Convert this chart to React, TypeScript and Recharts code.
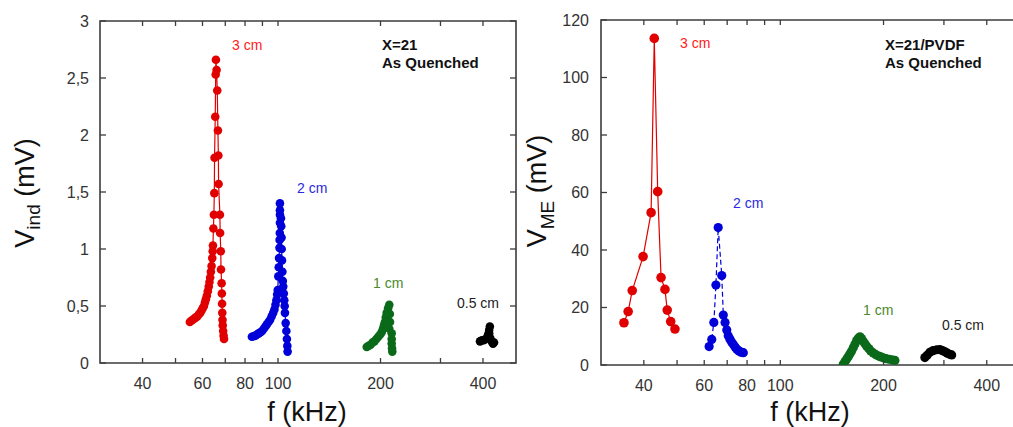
import React from 'react';
import { ComposedChart, Line, XAxis, YAxis, ReferenceArea } from 'recharts';

// ---------- data ----------
const X_TICKS = [40, 50, 60, 70, 80, 90, 100, 200, 300, 400];
const X_LABELED = [40, 60, 80, 100, 200, 400];
const IND_Y_TICKS = [0, 0.5, 1, 1.5, 2, 2.5, 3];
const ME_Y_TICKS = [0, 20, 40, 60, 80, 100, 120];

// Left panel: V_ind (mV) vs f (kHz), X=21 As Quenched
const ind3cm = [
  { f: 55.1, v: 0.36 }, { f: 55.6, v: 0.37 }, { f: 56.2, v: 0.38 }, { f: 56.8, v: 0.39 },
  { f: 57.4, v: 0.4 }, { f: 58.0, v: 0.41 }, { f: 58.6, v: 0.43 }, { f: 59.1, v: 0.44 },
  { f: 59.6, v: 0.46 }, { f: 60.1, v: 0.48 }, { f: 60.6, v: 0.5 }, { f: 61.0, v: 0.53 },
  { f: 61.4, v: 0.56 }, { f: 61.8, v: 0.59 }, { f: 62.2, v: 0.63 }, { f: 62.6, v: 0.67 },
  { f: 62.9, v: 0.71 }, { f: 63.2, v: 0.75 }, { f: 63.5, v: 0.8 }, { f: 63.8, v: 0.85 },
  { f: 64.1, v: 0.92 }, { f: 64.3, v: 0.98 }, { f: 64.4, v: 1.03 }, { f: 64.6, v: 1.18 },
  { f: 64.8, v: 1.3 }, { f: 65.0, v: 1.49 }, { f: 65.1, v: 1.8 }, { f: 65.4, v: 2.16 },
  { f: 65.6, v: 2.53 }, { f: 65.7, v: 2.66 }, { f: 66.0, v: 2.57 }, { f: 66.3, v: 2.39 },
  { f: 66.6, v: 2.04 }, { f: 66.8, v: 1.82 }, { f: 66.9, v: 1.57 }, { f: 67.5, v: 1.3 },
  { f: 67.6, v: 1.14 }, { f: 67.9, v: 0.98 }, { f: 68.0, v: 0.82 }, { f: 68.3, v: 0.7 },
  { f: 68.4, v: 0.61 }, { f: 68.5, v: 0.52 }, { f: 68.6, v: 0.44 }, { f: 68.7, v: 0.38 },
  { f: 68.8, v: 0.33 }, { f: 69.0, v: 0.28 }, { f: 69.2, v: 0.24 }, { f: 69.4, v: 0.21 },
];
const ind2cm = [
  { f: 83.8, v: 0.23 }, { f: 84.8, v: 0.235 }, { f: 85.8, v: 0.24 }, { f: 86.8, v: 0.25 },
  { f: 87.8, v: 0.26 }, { f: 88.8, v: 0.27 }, { f: 89.8, v: 0.28 }, { f: 90.8, v: 0.3 },
  { f: 91.8, v: 0.32 }, { f: 92.8, v: 0.34 }, { f: 93.8, v: 0.36 }, { f: 94.8, v: 0.38 },
  { f: 95.8, v: 0.41 }, { f: 96.8, v: 0.44 }, { f: 97.6, v: 0.47 }, { f: 98.3, v: 0.51 },
  { f: 98.9, v: 0.55 }, { f: 99.4, v: 0.6 }, { f: 99.8, v: 0.64 }, { f: 100.2, v: 0.76 },
  { f: 100.5, v: 0.84 }, { f: 100.7, v: 0.92 }, { f: 101.0, v: 1.01 }, { f: 101.1, v: 1.08 },
  { f: 101.2, v: 1.14 }, { f: 101.3, v: 1.23 }, { f: 101.3, v: 1.3 }, { f: 101.3, v: 1.34 },
  { f: 101.3, v: 1.4 }, { f: 102.0, v: 1.27 }, { f: 102.2, v: 1.2 }, { f: 102.4, v: 1.1 },
  { f: 102.5, v: 1.0 }, { f: 102.7, v: 0.9 }, { f: 103.0, v: 0.8 }, { f: 103.3, v: 0.72 },
  { f: 103.6, v: 0.67 }, { f: 104.0, v: 0.61 }, { f: 104.3, v: 0.55 }, { f: 104.6, v: 0.5 },
  { f: 104.8, v: 0.44 }, { f: 105.3, v: 0.35 }, { f: 105.8, v: 0.28 }, { f: 106.2, v: 0.21 },
  { f: 106.5, v: 0.15 }, { f: 106.7, v: 0.1 },
];
const ind1cm = [
  { f: 182.2, v: 0.14 }, { f: 184.5, v: 0.15 }, { f: 187.0, v: 0.16 }, { f: 189.5, v: 0.18 },
  { f: 192.0, v: 0.19 }, { f: 194.5, v: 0.21 }, { f: 197.0, v: 0.23 }, { f: 199.5, v: 0.25 },
  { f: 201.6, v: 0.27 }, { f: 203.3, v: 0.3 }, { f: 204.7, v: 0.33 }, { f: 206.1, v: 0.36 },
  { f: 207.3, v: 0.4 }, { f: 208.5, v: 0.44 }, { f: 210.5, v: 0.48 }, { f: 212.2, v: 0.51 },
  { f: 213.0, v: 0.43 }, { f: 213.3, v: 0.36 }, { f: 212.2, v: 0.3 }, { f: 215.7, v: 0.26 },
  { f: 215.7, v: 0.21 }, { f: 215.7, v: 0.17 }, { f: 216.2, v: 0.13 }, { f: 216.6, v: 0.1 },
];
const ind05cm = [
  { f: 392, v: 0.19 }, { f: 397, v: 0.2 }, { f: 402, v: 0.2 }, { f: 407, v: 0.21 },
  { f: 411, v: 0.22 }, { f: 414, v: 0.25 }, { f: 417, v: 0.29 }, { f: 419, v: 0.32 },
  { f: 417, v: 0.26 }, { f: 420, v: 0.22 }, { f: 424, v: 0.19 }, { f: 428, v: 0.17 },
  { f: 431, v: 0.18 },
];

// Right panel: V_ME (mV) vs f (kHz), X=21/PVDF As Quenched
const me3cm = [
  { f: 35.0, v: 14.7 }, { f: 36.0, v: 18.6 }, { f: 37.0, v: 25.9 }, { f: 39.8, v: 37.7 },
  { f: 42.0, v: 53.0 }, { f: 42.9, v: 113.6 }, { f: 43.9, v: 60.3 }, { f: 44.9, v: 30.4 },
  { f: 46.1, v: 26.3 }, { f: 46.8, v: 19.1 }, { f: 47.9, v: 15.1 }, { f: 49.3, v: 12.5 },
];
const me2cm = [
  { f: 62.0, v: 6.4 }, { f: 63.1, v: 8.9 }, { f: 64.0, v: 14.8 }, { f: 64.9, v: 27.8 },
  { f: 65.9, v: 47.8 }, { f: 67.5, v: 31.1 }, { f: 68.2, v: 17.4 }, { f: 69.0, v: 14.8 },
  { f: 69.8, v: 12.2 }, { f: 70.5, v: 10.2 }, { f: 71.3, v: 9.0 }, { f: 72.1, v: 8.0 },
  { f: 72.9, v: 7.2 }, { f: 73.8, v: 6.3 }, { f: 74.6, v: 5.6 }, { f: 75.5, v: 5.0 },
  { f: 76.3, v: 4.6 }, { f: 77.1, v: 4.4 }, { f: 78.0, v: 4.3 },
];
const me1cm = [
  { f: 152.6, v: 0.3 }, { f: 154.5, v: 1.2 }, { f: 156.2, v: 2.1 }, { f: 157.8, v: 2.9 },
  { f: 159.5, v: 3.8 }, { f: 161.3, v: 4.8 }, { f: 163.2, v: 6.0 }, { f: 165.0, v: 7.2 },
  { f: 167.0, v: 8.5 }, { f: 168.8, v: 9.3 }, { f: 170.7, v: 9.8 }, { f: 172.5, v: 9.2 },
  { f: 174.5, v: 8.3 }, { f: 176.5, v: 7.4 }, { f: 178.6, v: 6.5 }, { f: 181.0, v: 5.7 },
  { f: 183.5, v: 4.9 }, { f: 186.7, v: 4.2 }, { f: 190.0, v: 3.6 }, { f: 193.5, v: 3.1 },
  { f: 196.5, v: 2.8 }, { f: 199.6, v: 2.5 }, { f: 203.5, v: 2.2 }, { f: 207.5, v: 2.0 },
  { f: 211.5, v: 1.8 }, { f: 215.9, v: 1.6 },
];
const me05cm = [
  { f: 264, v: 2.6 }, { f: 268, v: 3.4 }, { f: 273, v: 4.4 }, { f: 279, v: 5.0 },
  { f: 286, v: 5.3 }, { f: 292, v: 5.4 }, { f: 297, v: 5.0 }, { f: 302, v: 4.6 },
  { f: 307, v: 4.1 }, { f: 312, v: 3.7 }, { f: 316, v: 3.5 },
];

// ---------- styles ----------
const FONT = '"Liberation Sans", Arial, sans-serif';
const AXIS = '#3c3c3c';
const RED = '#e00000';
const BLUE = '#0000d8';
const GREEN = '#0a6a1a';
const BLACK = '#000000';

const X_DOMAIN: [number, number] = [30, 500];

const makeXTick = (plotH: number) => (props: any) => {
  const { x, y, payload } = props;
  const val = payload.value;
  return (
    <g>
      <line x1={x} y1={y} x2={x} y2={y - 5} stroke={AXIS} strokeWidth={1.3} />
      <line x1={x} y1={y - plotH} x2={x} y2={y - plotH + 5} stroke={AXIS} strokeWidth={1.3} />
      {X_LABELED.includes(val) && (
        <text x={x} y={y + 26} textAnchor="middle" fontSize={16} fontFamily={FONT} fill="#333">
          {val}
        </text>
      )}
    </g>
  );
};

const makeYTick = (plotW: number, fmt: (v: number) => string, gap: number) => (props: any) => {
  const { x, y, payload } = props;
  return (
    <g>
      <line x1={x} y1={y} x2={x + 6} y2={y} stroke={AXIS} strokeWidth={1.3} />
      <line x1={x + plotW} y1={y} x2={x + plotW - 6} y2={y} stroke={AXIS} strokeWidth={1.3} />
      <text x={x - gap} y={y} dy="0.36em" textAnchor="end" fontSize={16} fontFamily={FONT} fill="#333">
        {fmt(payload.value)}
      </text>
    </g>
  );
};

const commaFmt = (v: number) => String(v).replace('.', ',');
const intFmt = (v: number) => String(v);

type Pt = { f: number; v: number };
const series = (data: Pt[], color: string, key: string, r: number, dash?: string) => (
  <Line
    key={key}
    data={data}
    dataKey="v"
    type="linear"
    stroke={color}
    strokeWidth={1.2}
    strokeDasharray={dash}
    dot={{ r, fill: color, stroke: color, strokeWidth: 0 }}
    activeDot={false}
    isAnimationActive={false}
  />
);

// left plot area: x 100..516, y 21..363
const L_PLOT_W = 416;
const L_PLOT_H = 342;
// right plot area: x 601..1020, y 20..365
const R_PLOT_W = 419;
const R_PLOT_H = 345;

export default function App() {
  return (
    <div
      style={{
        position: 'fixed',
        left: 0,
        top: 0,
        width: 1013,
        height: 427,
        overflow: 'hidden',
        background: '#fff',
      }}
    >
      <div style={{ position: 'absolute', left: 0, top: 0 }}>
        <ComposedChart width={530} height={427} margin={{ top: 21, right: 14, left: 0, bottom: 0 }}>
          <XAxis
            dataKey="f"
            type="number"
            scale="log"
            domain={X_DOMAIN}
            allowDataOverflow
            ticks={X_TICKS}
            interval={0}
            tickSize={0}
            tickMargin={0}
            axisLine={false}
            tickLine={false}
            height={64}
            tick={makeXTick(L_PLOT_H)}
          />
          <YAxis
            type="number"
            domain={[0, 3]}
            allowDataOverflow
            ticks={IND_Y_TICKS}
            interval={0}
            tickSize={0}
            tickMargin={0}
            axisLine={false}
            tickLine={false}
            width={100}
            tick={makeYTick(L_PLOT_W, commaFmt, 11)}
          />
          <ReferenceArea x1={30} x2={500} y1={0} y2={3} fill="none" stroke={AXIS} strokeWidth={1.6} />
          {series(ind3cm, RED, 'i3', 4.3)}
          {series(ind2cm, BLUE, 'i2', 4.3)}
          {series(ind1cm, GREEN, 'i1', 4.3)}
          {series(ind05cm, BLACK, 'i05', 4.3)}
        </ComposedChart>
      </div>
      <div style={{ position: 'absolute', left: 500, top: 0 }}>
        <ComposedChart width={530} height={427} margin={{ top: 20, right: 10, left: 0, bottom: 0 }}>
          <XAxis
            dataKey="f"
            type="number"
            scale="log"
            domain={X_DOMAIN}
            allowDataOverflow
            ticks={X_TICKS}
            interval={0}
            tickSize={0}
            tickMargin={0}
            axisLine={false}
            tickLine={false}
            height={62}
            tick={makeXTick(R_PLOT_H)}
          />
          <YAxis
            type="number"
            domain={[0, 120]}
            allowDataOverflow
            ticks={ME_Y_TICKS}
            interval={0}
            tickSize={0}
            tickMargin={0}
            axisLine={false}
            tickLine={false}
            width={101}
            tick={makeYTick(R_PLOT_W, intFmt, 12)}
          />
          <ReferenceArea x1={30} x2={500} y1={0} y2={120} fill="none" stroke={AXIS} strokeWidth={1.6} />
          {series(me3cm, RED, 'm3', 4.8)}
          {series(me2cm, BLUE, 'm2', 4.6, '5 3')}
          {series(me1cm, GREEN, 'm1', 4.6)}
          {series(me05cm, BLACK, 'm05', 4.6)}
        </ComposedChart>
      </div>
      <svg
        width={1013}
        height={427}
        style={{ position: 'absolute', left: 0, top: 0, pointerEvents: 'none' }}
        fontFamily={FONT}
      >
        {/* axis titles */}
        <text transform="translate(34,193) rotate(-90)" textAnchor="middle" fontSize={27} fill="#111">
          V<tspan fontSize={19} dy={6}>ind</tspan>
          <tspan dy={-6}> (mV)</tspan>
        </text>
        <text transform="translate(546,191) rotate(-90)" textAnchor="middle" fontSize={27} fill="#111">
          V<tspan fontSize={19} dy={8}>ME</tspan>
          <tspan dy={-8}> (mV)</tspan>
        </text>
        <text x={307} y={421} textAnchor="middle" fontSize={27} fill="#111">f (kHz)</text>
        <text x={810} y={421} textAnchor="middle" fontSize={27} fill="#111">f (kHz)</text>

        {/* panel notes */}
        <text x={382} y={50} fontSize={15} fontWeight="bold" fill="#111">X=21</text>
        <text x={382} y={68} fontSize={15} fontWeight="bold" fill="#111">As Quenched</text>
        <text x={885} y={50} fontSize={15} fontWeight="bold" fill="#111">X=21/PVDF</text>
        <text x={885} y={68} fontSize={15} fontWeight="bold" fill="#111">As Quenched</text>

        {/* series labels, left */}
        <text x={232} y={50} fontSize={14} fill="#ff2020">3 cm</text>
        <text x={297} y={193} fontSize={14} fill="#2a2ae0">2 cm</text>
        <text x={373} y={288} fontSize={14} fill="#4a8a2a">1 cm</text>
        <text x={457} y={308} fontSize={14} fill="#222">0.5 cm</text>

        {/* series labels, right */}
        <text x={680} y={48} fontSize={14} fill="#ff2020">3 cm</text>
        <text x={733} y={208} fontSize={14} fill="#2a2ae0">2 cm</text>
        <text x={863} y={315} fontSize={14} fill="#4a8a2a">1 cm</text>
        <text x={942} y={330} fontSize={14} fill="#222">0.5 cm</text>
      </svg>
    </div>
  );
}
